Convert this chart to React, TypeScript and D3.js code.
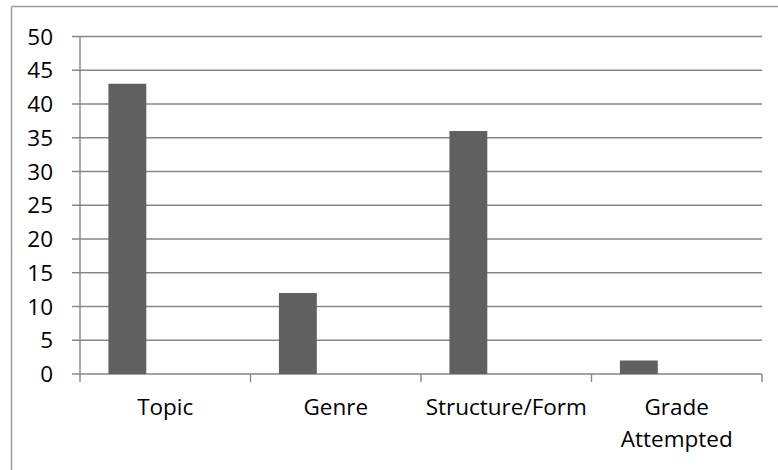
import React, { useEffect } from "react";
import * as d3 from "d3";

const categories = ["Topic", "Genre", "Structure/Form", "Grade Attempted"];
const values = [43, 12, 36, 2];
const seriesSlots = ["Series1", "Series2", "Series3"];
const yTicks = [0, 5, 10, 15, 20, 25, 30, 35, 40, 45, 50];
const labelLines: Record<string, string[]> = {
  "Grade Attempted": ["Grade", "Attempted"],
};

const W = 778;
const H = 470;
const FONT = "'Open Sans', Lato, sans-serif";
const FS = 22.5;

export default function App() {
  useEffect(() => {
    document.body.style.margin = "0";
  }, []);

  const x = d3.scaleBand<string>().domain(categories).range([80, 762]).paddingInner(0).paddingOuter(0);
  const inner = d3
    .scaleBand<string>()
    .domain(seriesSlots)
    .range([0, x.bandwidth()])
    .paddingInner(0)
    .paddingOuter(0.75);
  const y = d3.scaleLinear().domain([0, 50]).range([374, 36.5]);
  const gridColor = "#868686";

  return (
    <svg width={W} height={H} style={{ position: "absolute", left: 0, top: 0 }}>
      <rect x={0} y={0} width={W} height={H} fill="#fff" />
      {/* outer border (top & left visible) */}
      <line x1={11.5} y1={6.5} x2={W + 2} y2={6.5} stroke="#9a9a9a" strokeWidth={1.5} />
      <line x1={11.5} y1={6.5} x2={11.5} y2={H + 2} stroke="#9a9a9a" strokeWidth={1.5} />
      {/* gridlines & y ticks */}
      {yTicks.map((t) => (
        <g key={t}>
          <line x1={72} x2={762} y1={y(t)} y2={y(t)} stroke={gridColor} strokeWidth={1.4} />
          <text
            x={53}
            y={y(t)}
            dy="0.36em"
            textAnchor="end"
            fontFamily={FONT}
            fontSize={FS}
            fill="#000"
          >
            {t}
          </text>
        </g>
      ))}
      {/* y axis */}
      <line x1={80} x2={80} y1={y(50)} y2={y(0)} stroke={gridColor} strokeWidth={1.4} />
      {/* x category ticks */}
      {[...categories.map((c) => x(c)!), 762].map((px, i) => (
        <line key={i} x1={px} x2={px} y1={y(0)} y2={y(0) + 8} stroke={gridColor} strokeWidth={1.4} />
      ))}
      {/* bars */}
      {categories.map((c, i) => (
        <rect
          key={c}
          x={x(c)! + inner("Series1")!}
          y={y(values[i])}
          width={inner.bandwidth()}
          height={y(0) - y(values[i])}
          fill="#606060"
        />
      ))}
      {/* category labels */}
      {categories.map((c) => {
        const lines = labelLines[c] || [c];
        return (
          <text
            key={c}
            x={x(c)! + x.bandwidth() / 2}
            y={415}
            textAnchor="middle"
            fontFamily={FONT}
            fontSize={FS}
            fill="#000"
          >
            {lines.map((l, j) => (
              <tspan key={j} x={x(c)! + x.bandwidth() / 2} dy={j === 0 ? 0 : 32}>
                {l}
              </tspan>
            ))}
          </text>
        );
      })}
    </svg>
  );
}
